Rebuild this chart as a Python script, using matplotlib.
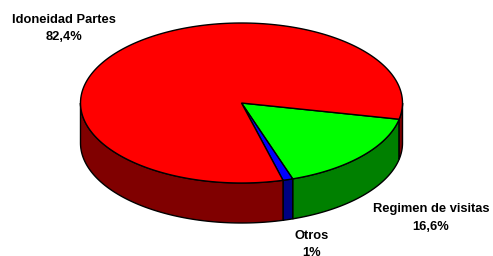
import numpy as np
import matplotlib
matplotlib.use("Agg")
import matplotlib.pyplot as plt
from matplotlib.patches import Polygon

categories = ["Idoneidad Partes", "Regimen de visitas", "Otros"]
values = [82.4, 16.6, 1.0]
pct_labels = ["82,4%", "16,6%", "1%"]
top_colors = ["#ff0000", "#00ff00", "#0000ff"]
side_colors = ["#800000", "#008000", "#000080"]

# layout (pixels)
W, H = 493, 256
cx, cy, rx, ry, depth = 241.5, 103, 161, 80, 40
start_angle = -11.7  # degrees, green slice starts here going clockwise

fig = plt.figure(figsize=(W / 100, H / 100), dpi=100)
ax = fig.add_axes([0, 0, 1, 1])
ax.set_xlim(0, W)
ax.set_ylim(H, 0)
ax.axis("off")

order = [1, 2, 0]
total = sum(values)
angles = {}
a = start_angle
for i in order:
    span = values[i] / total * 360
    angles[i] = (a - span, a)
    a -= span


def pt(t, dz=0):
    t = np.radians(t)
    return cx + rx * np.cos(t), cy - ry * np.sin(t) + dz


for i in order:
    lo, hi = angles[i]
    for off in (0, -360, 360):
        l, h = max(lo, -180 + off), min(hi, 0 + off)
        if h > l:
            ts = np.linspace(l, h, 80)
            top = [pt(t) for t in ts]
            bot = [pt(t, depth) for t in ts[::-1]]
            ax.add_patch(Polygon(top + bot, closed=True, facecolor=side_colors[i],
                                 edgecolor="black", linewidth=1.0, zorder=2))

for i in order:
    lo, hi = angles[i]
    ts = np.linspace(lo, hi, 200)
    pts = [(cx, cy)] + [pt(t) for t in ts]
    ax.add_patch(Polygon(pts, closed=True, facecolor=top_colors[i],
                         edgecolor="black", linewidth=1.0, zorder=3))

label_pos = [(64, 20), (431, 209), (312, 236)]
for i in range(3):
    x, y = label_pos[i]
    ax.text(x, y, categories[i], ha="center", va="center",
            fontsize=9.3, fontweight="bold", family="Liberation Sans", zorder=5)
    ax.text(x, y + 17.5, pct_labels[i], ha="center", va="center",
            fontsize=9.3, fontweight="bold", family="Liberation Sans", zorder=5)

fig.savefig("out.png", dpi=100)
